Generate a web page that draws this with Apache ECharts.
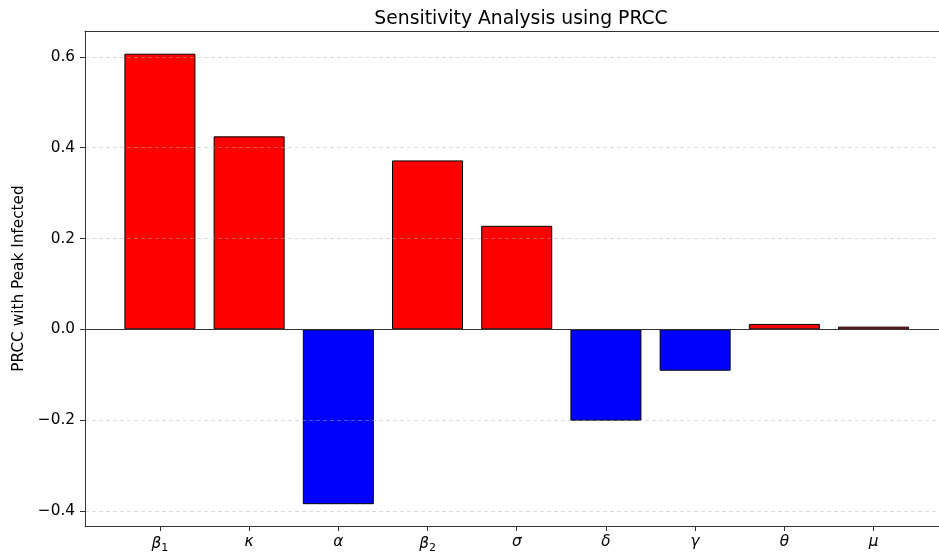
<!DOCTYPE html>
<html>
<head>
<meta charset="utf-8">
<script src="https://cdn.jsdelivr.net/npm/echarts@6/dist/echarts.min.js"></script>
<style>
html,body{margin:0;padding:0;background:#fff;}
#chart{width:939px;height:560px;}
</style>
</head>
<body>
<div id="chart"></div>
<script>
// Data
const paramSymbols = ['β', 'κ', 'α', 'β', 'σ', 'δ', 'γ', 'θ', 'μ'];
const paramSubscripts = ['1', '', '', '2', '', '', '', '', ''];
const prccValues = [0.607, 0.425, -0.385, 0.372, 0.228, -0.201, -0.091, 0.012, 0.006];
const yTickValues = [-0.4, -0.2, 0.0, 0.2, 0.4, 0.6];
const xPositions = paramSymbols.map((_, i) => i);

const chart = echarts.init(document.getElementById('chart'));
const font = 'DejaVu Sans';

const barData = prccValues.map((v, i) => ({
  value: [i, v],
  itemStyle: { color: v >= 0 ? '#ff0000' : '#0000ff' }
}));

// x range: matplotlib-style margins; the right edge of the axes lies beyond the canvas
const xMin = -0.84, xMax = 8.734;

chart.setOption({
  animation: false,
  backgroundColor: '#ffffff',
  title: {
    text: 'Sensitivity Analysis using PRCC',
    left: 516, top: 5, textAlign: 'center',
    textStyle: { fontFamily: font, fontSize: 18.8, fontWeight: 'normal', color: '#000' }
  },
  grid: {
    left: 85, right: 0, top: 31, height: 495, show: false
  },
  xAxis: [{
    type: 'value', min: xMin, max: xMax,
    axisLine: { show: true, onZero: false, lineStyle: { color: '#333', width: 1 } },
    axisTick: { show: true, customValues: xPositions, length: 5, lineStyle: { color: '#333' } },
    axisLabel: {
      customValues: xPositions,
      margin: 9,
      formatter: function (val) {
        const i = Math.round(val);
        const sub = paramSubscripts[i];
        return '{g|' + paramSymbols[i] + '}' + (sub ? '{s|' + sub + '}' : '');
      },
      rich: {
        g: { fontFamily: font, fontSize: 15.3, fontStyle: 'italic', color: '#000' },
        s: { fontFamily: font, fontSize: 11, color: '#000', verticalAlign: 'bottom', padding: [8, 0, 0, 0] }
      }
    },
    splitLine: { show: false }
  }, {
    type: 'value', min: xMin, max: xMax, position: 'top',
    axisLine: { show: true, onZero: false, lineStyle: { color: '#333', width: 1 } },
    axisTick: { show: false }, axisLabel: { show: false }, splitLine: { show: false }
  }],
  yAxis: {
    type: 'value', min: -0.433, max: 0.657,
    z: 3,
    name: 'PRCC with Peak Infected',
    nameLocation: 'middle', nameGap: 57, nameRotate: 90,
    nameTextStyle: { fontFamily: font, fontSize: 15.3, color: '#000' },
    axisLine: { show: true, onZero: false, lineStyle: { color: '#333', width: 1 } },
    axisTick: { show: true, customValues: yTickValues, length: 5, lineStyle: { color: '#333' } },
    axisLabel: {
      customValues: yTickValues,
      margin: 10,
      fontFamily: font, fontSize: 15.3, color: '#000',
      formatter: v => (v < 0 ? '\u2212' : '') + Math.abs(v).toFixed(1)
    },
    splitLine: { show: true, lineStyle: { color: '#b0b0b0', type: [4, 3], width: 0.8, opacity: 0.6 } }
  },
  series: [{
    type: 'bar',
    data: barData,
    barWidth: 71,
    itemStyle: { borderColor: '#000', borderWidth: 1 },
    markLine: {
      silent: true, symbol: 'none', label: { show: false },
      lineStyle: { color: '#333', type: 'solid', width: 1 },
      data: [{ yAxis: 0 }]
    }
  }]
});
</script>
</body>
</html>
